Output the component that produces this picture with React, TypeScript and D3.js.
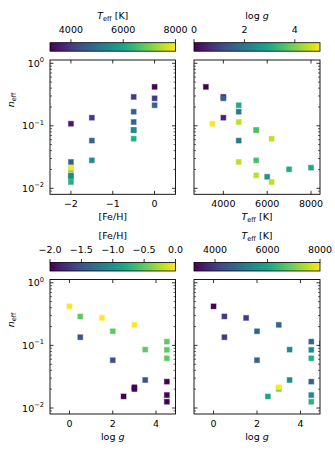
import React from 'react';
import * as d3 from 'd3';

// ---- data: one entry per star ----
const feh = [0, -0.5, -1.5, 0, -0.5, -1.5, -2, 0, -2, -2, -0.5, -0.5, -0.5, -2, -2, -2, -0.5, -1.5, -2];
const teff = [3200, 4000, 4000, 4000, 4700, 4700, 6000, 4700, 7000, 8000, 4700, 5500, 6200, 4700, 5500, 6200, 5500, 5500, 3500];
const logg = [0, 0.5, 0.5, 1.5, 2, 2, 2.5, 3, 3, 3, 4.5, 4.5, 4.5, 4.5, 4.5, 4.5, 3.5, 3.5, 5];
const neff = [0.42, 0.29, 0.135, 0.275, 0.168, 0.058, 0.0153, 0.213, 0.0201, 0.0214, 0.115, 0.085, 0.0622, 0.0264, 0.0161, 0.0126, 0.0857, 0.028, 0.108];

const fehTicks = [-2, -1.5, -1, -0.5, 0];
const teffTicks = [4000, 6000, 8000];
const loggTicks = [0, 2, 4];
const fehAxisTicks = [-2, -1, 0];
const yMajor = [1e-2, 1e-1, 1];

const W = 335, H = 450;
const FS = 9.5;
const FONT = 'DejaVu Sans, sans-serif';
const CBH = 8.5;

const minus = (s: string) => s.replace('-', '\u2212');

type Var = 'feh' | 'teff' | 'logg';
const vals: Record<Var, number[]> = { feh, teff, logg };

const TeffLabel = () => (
  <>
    <tspan fontStyle="italic">T</tspan>
    <tspan fontSize={FS * 0.7} dy={2}>eff</tspan>
    <tspan dy={-2}> [K]</tspan>
  </>
);
const LoggLabel = () => (
  <>
    <tspan>log</tspan>
    <tspan fontStyle="italic"> g</tspan>
  </>
);
const FehLabel = () => <tspan>[Fe/H]</tspan>;

const labels: Record<Var, () => JSX.Element> = { feh: FehLabel, teff: TeffLabel, logg: LoggLabel };

const cbInfo: Record<Var, { domain: [number, number]; ticks: number[]; fmt: (d: number) => string }> = {
  teff: { domain: [3200, 8000], ticks: teffTicks, fmt: (d) => String(d) },
  logg: { domain: [0, 5], ticks: loggTicks, fmt: (d) => String(d) },
  feh: { domain: [-2, 0], ticks: fehTicks, fmt: (d) => minus(d.toFixed(1)) },
};

const xInfo: Record<Var, { domain: [number, number]; ticks: number[]; fmt: (d: number) => string }> = {
  feh: { domain: [-2.5, 0.5], ticks: fehAxisTicks, fmt: (d) => minus(String(d)) },
  teff: { domain: [2660, 8410], ticks: teffTicks, fmt: (d) => String(d) },
  logg: { domain: [-0.9, 4.9], ticks: loggTicks, fmt: (d) => String(d) },
};

const panels = [
  { id: 'p1', x: 'feh' as Var, c: 'teff' as Var, col: [50, 175.5], row: { axTop: 60, axBot: 194.3, cbTop: 42.7, ylab: 100 }, showY: true },
  { id: 'p2', x: 'teff' as Var, c: 'logg' as Var, col: [194, 320], row: { axTop: 60, axBot: 194.3, cbTop: 42.7, ylab: 100 }, showY: false },
  { id: 'p3', x: 'logg' as Var, c: 'feh' as Var, col: [50, 175.5], row: { axTop: 279.5, axBot: 414, cbTop: 262.5, ylab: 320 }, showY: true },
  { id: 'p4', x: 'logg' as Var, c: 'teff' as Var, col: [194, 320], row: { axTop: 279.5, axBot: 414, cbTop: 262.5, ylab: 320 }, showY: false },
];

const minorY: number[] = [];
for (let e = -3; e <= -1; e++) for (let k = 2; k <= 9; k++) minorY.push(k * Math.pow(10, e));

function Panel({ p }: { p: typeof panels[number] }) {
  const [x0, x1] = p.col;
  const { axTop, axBot, cbTop, ylab } = p.row;
  const xi = xInfo[p.x];
  const ci = cbInfo[p.c];
  const xs = d3.scaleLinear().domain(xi.domain).range([x0, x1]);
  const ys = d3.scaleLog().domain([0.00802, 1.129]).range([axBot, axTop]);
  const cs = d3.scaleSequential(d3.interpolateViridis).domain(ci.domain);
  const cbx = d3.scaleLinear().domain(ci.domain).range([x0, x1]);
  const XL = labels[p.x];
  const CL = labels[p.c];
  const xv = vals[p.x];
  const cv = vals[p.c];
  const stops = d3.range(0, 1.0001, 0.05);
  const yMinor = minorY.filter((v) => v > 0.00802 && v < 1.129);
  const M = 5;
  return (
    <g>
      <defs>
        <linearGradient id={`g-${p.id}`} x1="0" x2="1" y1="0" y2="0">
          {stops.map((t) => (
            <stop key={t} offset={t} stopColor={d3.interpolateViridis(t)} />
          ))}
        </linearGradient>
        <clipPath id={`c-${p.id}`}>
          <rect x={x0} y={axTop} width={x1 - x0} height={axBot - axTop} />
        </clipPath>
      </defs>
      {/* colorbar */}
      <rect x={x0} y={cbTop} width={x1 - x0} height={CBH} fill={`url(#g-${p.id})`} stroke="#000" strokeWidth={0.8} />
      {ci.ticks.map((t) => (
        <g key={t}>
          <line x1={cbx(t)} x2={cbx(t)} y1={cbTop - 3.5} y2={cbTop} stroke="#000" strokeWidth={0.8} />
          <text x={cbx(t)} y={cbTop - 9.5} textAnchor="middle" fontSize={FS} fontFamily={FONT}>{ci.fmt(t)}</text>
        </g>
      ))}
      <text x={(x0 + x1) / 2} y={cbTop - 24} textAnchor="middle" fontSize={FS} fontFamily={FONT}><CL /></text>
      {/* points */}
      <g clipPath={`url(#c-${p.id})`}>
        {neff.map((n, i) => (
          <rect key={i} x={xs(xv[i]) - M / 2} y={ys(n) - M / 2} width={M} height={M}
            fill={cs(cv[i])} stroke={cs(cv[i])} strokeOpacity={0.45} strokeWidth={1} />
        ))}
      </g>
      {/* spines */}
      <rect x={x0} y={axTop} width={x1 - x0} height={axBot - axTop} fill="none" stroke="#000" strokeWidth={0.9} />
      {/* x ticks inward, bottom & top */}
      {xi.ticks.map((t) => (
        <g key={t}>
          <line x1={xs(t)} x2={xs(t)} y1={axBot} y2={axBot - 3.5} stroke="#000" strokeWidth={0.8} />
          <line x1={xs(t)} x2={xs(t)} y1={axTop} y2={axTop + 3.5} stroke="#000" strokeWidth={0.8} />
          <text x={xs(t)} y={axBot + 12.5} textAnchor="middle" fontSize={FS} fontFamily={FONT}>{xi.fmt(t)}</text>
        </g>
      ))}
      <text x={(x0 + x1) / 2} y={axBot + 26} textAnchor="middle" fontSize={FS} fontFamily={FONT}><XL /></text>
      {/* y ticks */}
      {yMajor.map((t) => (
        <g key={t}>
          <line x1={x0} x2={x0 + 3.5} y1={ys(t)} y2={ys(t)} stroke="#000" strokeWidth={0.8} />
          <line x1={x1} x2={x1 - 3.5} y1={ys(t)} y2={ys(t)} stroke="#000" strokeWidth={0.8} />
          {p.showY && (
            <text x={x0 - 6} y={ys(t) + 3.5} textAnchor="end" fontSize={FS} fontFamily={FONT}>
              <tspan>10</tspan>
              <tspan fontSize={FS * 0.7} dy={-4.5}>{minus(String(Math.round(Math.log10(t))))}</tspan>
            </text>
          )}
        </g>
      ))}
      {yMinor.map((t) => (
        <g key={t}>
          <line x1={x0} x2={x0 + 2} y1={ys(t)} y2={ys(t)} stroke="#000" strokeWidth={0.6} />
          <line x1={x1} x2={x1 - 2} y1={ys(t)} y2={ys(t)} stroke="#000" strokeWidth={0.6} />
        </g>
      ))}
      {p.showY && (
        <text transform={`translate(14,${ylab}) rotate(-90)`} textAnchor="middle" fontSize={FS} fontFamily={FONT}>
          <tspan fontStyle="italic">n</tspan>
          <tspan fontSize={FS * 0.7} dy={2}>eff</tspan>
        </text>
      )}
    </g>
  );
}

export default function App() {
  return (
    <svg width={W} height={H} viewBox={`0 0 ${W} ${H}`} style={{ position: 'absolute', left: 0, top: 0, background: '#fff' }}>
      <rect width={W} height={H} fill="#fff" />
      {panels.map((p) => (
        <Panel key={p.id} p={p} />
      ))}
    </svg>
  );
}
